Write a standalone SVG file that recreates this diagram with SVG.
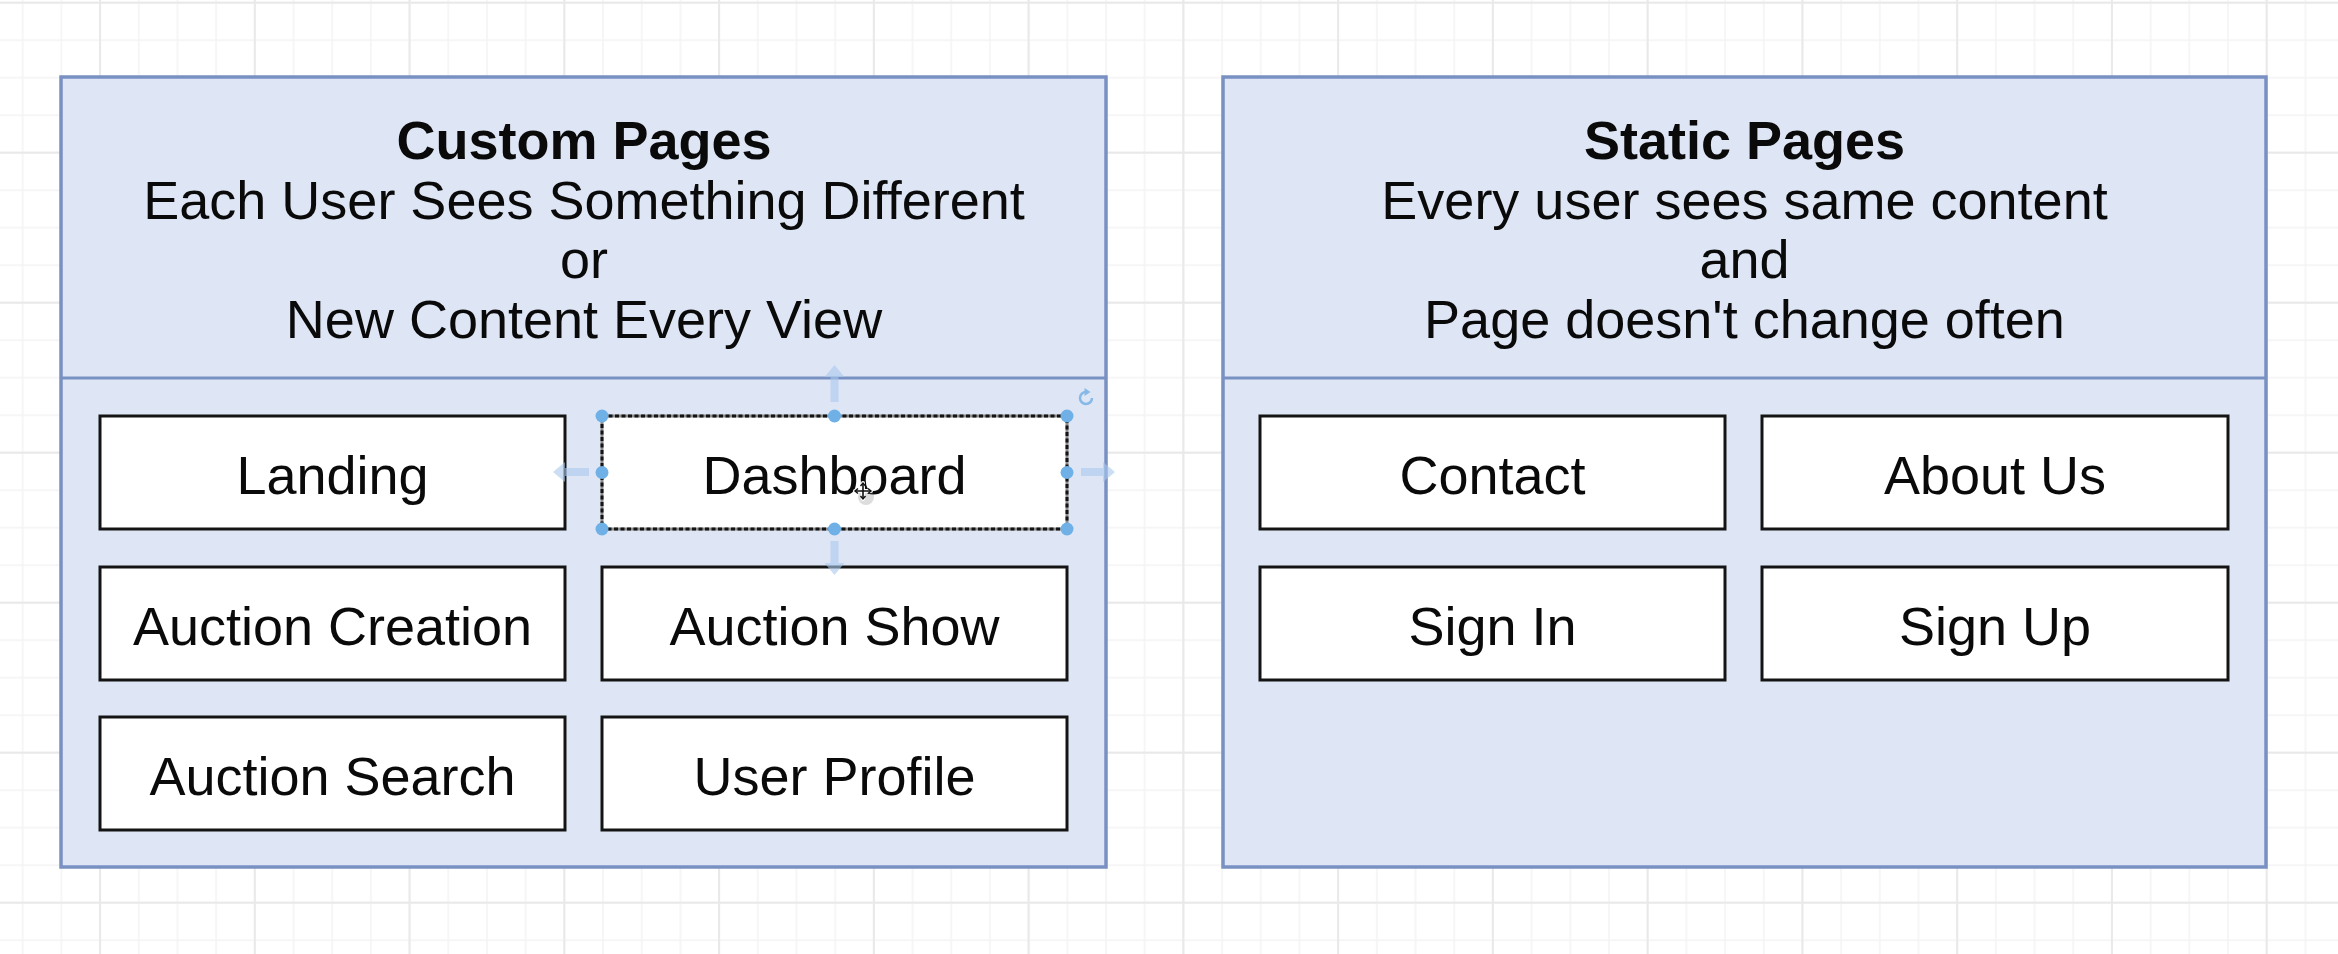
<svg xmlns="http://www.w3.org/2000/svg" width="2338" height="954" viewBox="0 0 2338 954">
  <defs>
    <!-- editor canvas grid: fine lines plus a heavier line every fourth cell -->
    <pattern id="gridMinor" patternUnits="userSpaceOnUse" x="21.7" y="1.7" width="38.69" height="37.5">
      <path d="M1,0 V37.5 M0,1 H38.69" fill="none" stroke="#f4f4f4" stroke-width="1.5"/>
    </pattern>
    <pattern id="gridMajor" patternUnits="userSpaceOnUse" x="253.8" y="1.7" width="154.76" height="150">
      <path d="M1,0 V150 M0,1 H154.76" fill="none" stroke="#e9e9e9" stroke-width="2"/>
    </pattern>
    <style>
      .panel { fill: #dee6f5; stroke: #7890c2; stroke-width: 3.5; }
      .divider { stroke: #7890c2; stroke-width: 3; }
      .box { fill: #ffffff; stroke: #141414; stroke-width: 3; }
      .title { font-family: "Liberation Sans", Arial, sans-serif; font-size: 54px; font-weight: bold; fill: #0a0a0a; text-anchor: middle; }
      .sub { font-family: "Liberation Sans", Arial, sans-serif; font-size: 54px; fill: #0a0a0a; text-anchor: middle; }
      .label { font-family: "Liberation Sans", Arial, sans-serif; font-size: 54px; fill: #0a0a0a; text-anchor: middle; }
      .handle { fill: #6fb0e6; }
      .hint { fill: #a9c8ec; opacity: 0.6; }
    </style>
  </defs>

  <!-- canvas -->
  <rect x="0" y="0" width="2338" height="954" fill="#ffffff"/>
  <rect x="0" y="0" width="2338" height="954" fill="url(#gridMinor)"/>
  <rect x="0" y="0" width="2338" height="954" fill="url(#gridMajor)"/>

  <!-- Custom Pages container -->
  <g id="custom-pages">
    <rect class="panel" x="61" y="77" width="1045" height="790"/>
    <line class="divider" x1="61" y1="378" x2="1106" y2="378"/>
    <text class="title" x="584" y="159">Custom Pages</text>
    <text class="sub" x="584" y="219">Each User Sees Something Different</text>
    <text class="sub" x="584" y="278">or</text>
    <text class="sub" x="584" y="338">New Content Every View</text>
  </g>

  <!-- Static Pages container -->
  <g id="static-pages">
    <rect class="panel" x="1223" y="77" width="1043" height="790"/>
    <line class="divider" x1="1223" y1="378" x2="2266" y2="378"/>
    <text class="title" x="1744.5" y="159">Static Pages</text>
    <text class="sub" x="1744.5" y="219">Every user sees same content</text>
    <text class="sub" x="1744.5" y="278">and</text>
    <text class="sub" x="1744.5" y="338">Page doesn't change often</text>
  </g>

  <!-- custom page nodes -->
  <g id="landing">
    <rect class="box" x="100" y="416" width="465" height="113"/>
    <text class="label" x="332.5" y="494">Landing</text>
  </g>
  <g id="dashboard">
    <rect x="602" y="416" width="465" height="113" fill="#ffffff" stroke="#8c8c8c" stroke-width="3"/>
    <rect x="602" y="416" width="465" height="113" fill="none" stroke="#141414" stroke-width="3" stroke-dasharray="4 2.5"/>
    <text class="label" x="834.5" y="494">Dashboard</text>
  </g>
  <g id="auction-creation">
    <rect class="box" x="100" y="567" width="465" height="113"/>
    <text class="label" x="332.5" y="645">Auction Creation</text>
  </g>
  <g id="auction-show">
    <rect class="box" x="602" y="567" width="465" height="113"/>
    <text class="label" x="834.5" y="645">Auction Show</text>
  </g>
  <g id="auction-search">
    <rect class="box" x="100" y="717" width="465" height="113"/>
    <text class="label" x="332.5" y="795">Auction Search</text>
  </g>
  <g id="user-profile">
    <rect class="box" x="602" y="717" width="465" height="113"/>
    <text class="label" x="834.5" y="795">User Profile</text>
  </g>

  <!-- static page nodes -->
  <g id="contact">
    <rect class="box" x="1260" y="416" width="465" height="113"/>
    <text class="label" x="1492.5" y="494">Contact</text>
  </g>
  <g id="about-us">
    <rect class="box" x="1762" y="416" width="466" height="113"/>
    <text class="label" x="1995" y="494">About Us</text>
  </g>
  <g id="sign-in">
    <rect class="box" x="1260" y="567" width="465" height="113"/>
    <text class="label" x="1492.5" y="645">Sign In</text>
  </g>
  <g id="sign-up">
    <rect class="box" x="1762" y="567" width="466" height="113"/>
    <text class="label" x="1995" y="645">Sign Up</text>
  </g>

  <!-- no edges between pages -->
  <g id="connectors"/>

  <!-- selection overlay on the Dashboard node -->
  <g id="selection">
    <polygon class="hint" points="553,472 565,462 565,468 589,468 589,476 565,476 565,482"/>
    <polygon class="hint" points="1115,472 1103,462 1103,468 1081,468 1081,476 1103,476 1103,482"/>
    <polygon class="hint" points="834.5,365 824.5,377 830.5,377 830.5,402 838.5,402 838.5,377 844.5,377"/>
    <polygon class="hint" points="834.5,575 824.5,563 830.5,563 830.5,541 838.5,541 838.5,563 844.5,563"/>
    <circle class="handle" cx="602" cy="416" r="6.5"/>
    <circle class="handle" cx="834.5" cy="416" r="6.5"/>
    <circle class="handle" cx="1067" cy="416" r="6.5"/>
    <circle class="handle" cx="602" cy="472.5" r="6.5"/>
    <circle class="handle" cx="1067" cy="472.5" r="6.5"/>
    <circle class="handle" cx="602" cy="529" r="6.5"/>
    <circle class="handle" cx="834.5" cy="529" r="6.5"/>
    <circle class="handle" cx="1067" cy="529" r="6.5"/>
    <!-- rotate handle -->
    <path d="M1086,392 A6,6 0 1 0 1092,398" fill="none" stroke="#86b9e8" stroke-width="2.5"/>
    <polygon points="1084.5,388 1090.5,392 1084.5,396" fill="#86b9e8"/>
  </g>

  <!-- move pointer -->
  <g id="pointer">
    <circle cx="866" cy="497" r="8" fill="#777777" opacity="0.25"/>
    <path d="M863,483 V499 M855,491 H871" stroke="#ffffff" stroke-width="4" stroke-linecap="round"/>
    <path d="M863,483 V499 M855,491 H871" stroke="#111111" stroke-width="1.6"/>
    <path d="M860.5,486 L863,483 L865.5,486 M860.5,496 L863,499 L865.5,496 M858,488.5 L855,491 L858,493.5 M868,488.5 L871,491 L868,493.5" fill="none" stroke="#111111" stroke-width="1.4"/>
  </g>
</svg>
